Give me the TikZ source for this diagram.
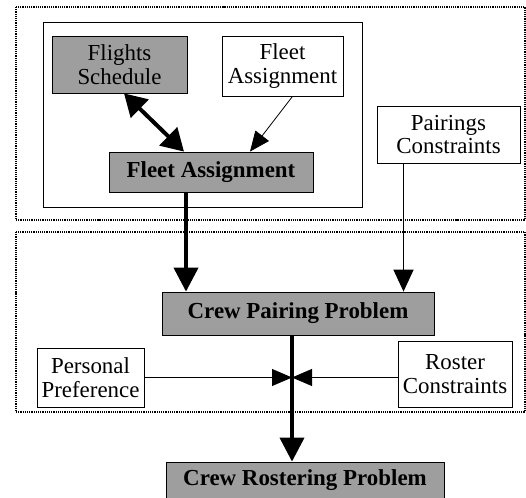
\documentclass[tikz,border=0pt]{standalone}
\usepackage{fontspec}
\setmainfont{Liberation Serif}
\usetikzlibrary{arrows.meta}

\begin{document}
\begin{tikzpicture}[x=1bp,y=-1bp,
    box/.style={draw,line width=0.8bp,align=center,inner sep=0pt,
      font=\fontsize{23}{24}\selectfont},
    gbox/.style={box,fill=black!38,font=\fontsize{23}{24}\selectfont\bfseries},
    fat/.style={line width=4bp,-{Triangle[length=24bp,width=24bp]}},
    thin/.style={line width=1.6bp,-{Triangle[length=22bp,width=20bp]}},
    hair/.style={line width=0.8bp,-{Triangle[length=20bp,width=17bp]}},
    frame/.style={densely dotted,line width=1.2bp}]
  \useasboundingbox (0,0) rectangle (526,498);
  \draw[frame] (16,7) rectangle (525,220);
  \draw[frame] (16,232) rectangle (525,412);
  \draw[line width=0.8bp] (43,22) rectangle (362,207);
  \node[gbox,font=\fontsize{23}{24}\selectfont,minimum width=135bp,minimum height=57bp]
    (fs) at (119.5,64.5) {Flights\\Schedule};
  \node[box,minimum width=121bp,minimum height=60bp] (fa) at (282.5,66) {Fleet\\Assignment};
  \node[gbox,minimum width=204bp,minimum height=40bp] (fab) at (211,172) {Fleet Assignment};
  \node[box,minimum width=143bp,minimum height=57bp] (pc) at (448.5,134.5) {Pairings\\Constraints};
  \node[gbox,minimum width=272bp,minimum height=43bp] (cpp) at (298,313.5) {Crew Pairing Problem};
  \node[box,minimum width=107bp,minimum height=59bp] (pp) at (90.5,377.5) {Personal\\Preference};
  \node[box,minimum width=114bp,minimum height=66bp] (rc) at (455,374) {Roster\\Constraints};
  \node[gbox,minimum width=278bp,minimum height=36bp] (crp) at (305,480) {Crew Rostering Problem};
  \coordinate (mid) at ([xshift=-6bp]cpp.south |- pp.east);
  \draw[line width=4bp,{Triangle[length=22bp,width=25bp]}-{Triangle[length=22bp,width=25bp]}]
    ([xshift=4.5bp]fs.south) -- ([xshift=-27bp]fab.north);
  \draw[hair] ([xshift=10bp]fa.south) -- ([xshift=39bp]fab.north);
  \draw[fat] ([xshift=-25bp]fab.south) -- ([xshift=-25bp]fab.south |- cpp.north);
  \draw[thin] ([xshift=-45bp]pc.south) -- ([xshift=-45bp]pc.south |- cpp.north);
  \draw[fat] ([xshift=-6bp]cpp.south) -- ([xshift=-6bp]cpp.south |- crp.north);
  \draw[hair] (pp.east) -- (mid);
  \draw[hair] (rc.west |- mid) -- (mid);
\end{tikzpicture}
\end{document}
